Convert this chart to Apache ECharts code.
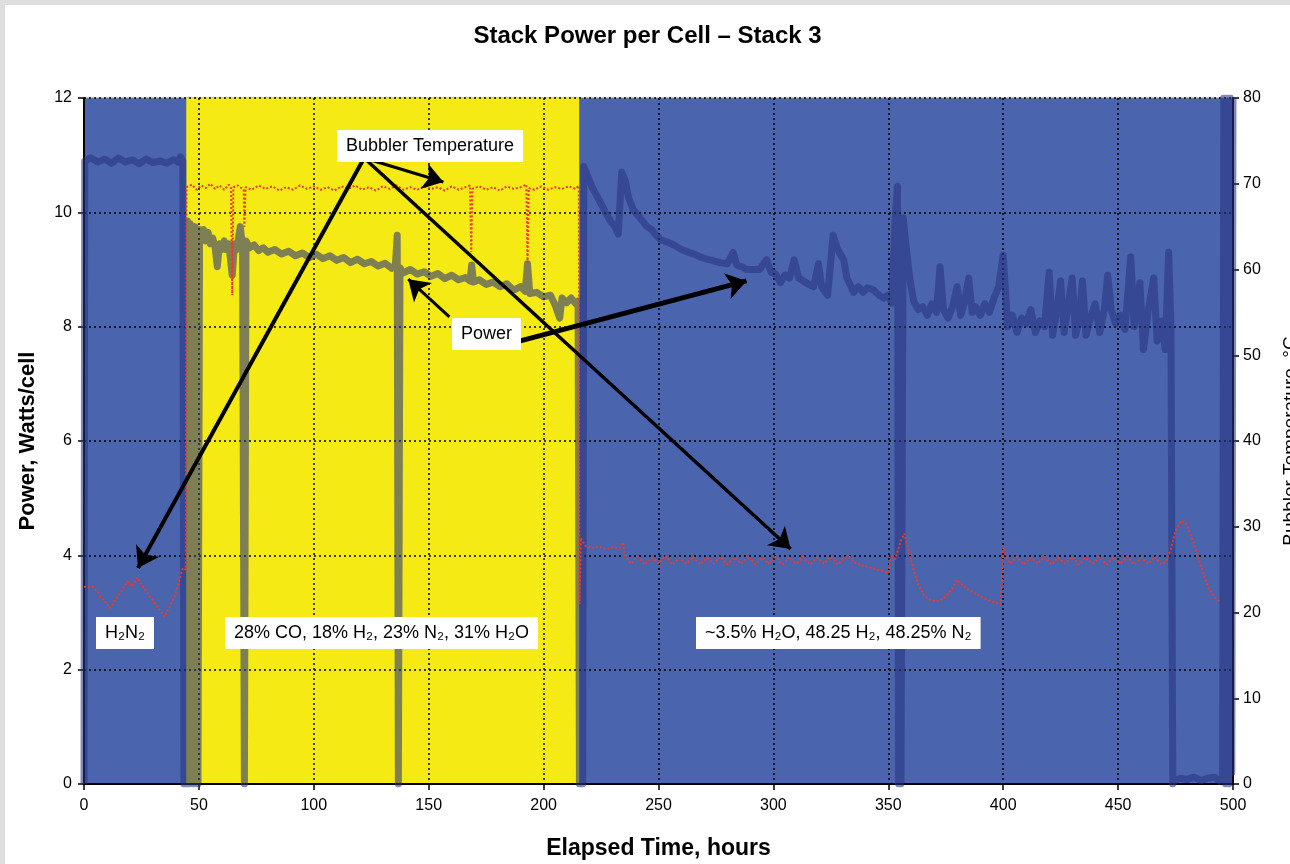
<!DOCTYPE html>
<html>
<head>
<meta charset="utf-8">
<script src="https://cdn.jsdelivr.net/npm/echarts@6/dist/echarts.min.js"></script>
<style>
  body { margin: 0; background: #dedede; }
  #chart { position: absolute; left: 5px; top: 5px; width: 1285px; height: 859px; background: #fff; }
</style>
</head>
<body>
<div id="chart"></div>
<script>
// Stack Power per Cell - Stack 3

const xTicks = [0, 50, 100, 150, 200, 250, 300, 350, 400, 450, 500];
const powerTicks = [0, 2, 4, 6, 8, 10, 12];
const tempTicks = [0, 10, 20, 30, 40, 50, 60, 70, 80];

// syngas test window (hours)
const syngasWindow = [44.5, 215.5];

// [hours, W/cell]
const power = [
  [0, 0], [0.3, 10.9], [3, 10.95], [6, 10.88], [9, 10.93], [12, 10.86], [15, 10.95], [18, 10.88],
  [21, 10.92], [24, 10.85], [27, 10.93], [30, 10.87], [33, 10.9], [36, 10.86], [39, 10.92],
  [41, 10.88], [42, 10.97], [43, 10.9], [43.5, 0], [44.5, 0], [45, 9.85], [45.6, 0], [46.2, 9.8],
  [47, 9.6], [47.6, 0], [48.3, 9.75], [49, 9.5], [49.6, 0], [50.3, 9.7], [51, 9.55], [52, 9.7],
  [53, 9.5], [54, 9.65], [55, 9.45], [56, 9.55], [57, 9.4], [58, 9.05], [59, 9.45], [60, 9.35],
  [61, 9.5], [62, 9.35], [63, 9.45], [64.5, 8.9], [65.5, 9.45], [66.5, 9.35], [68, 9.75], [69, 9.4],
  [69.8, 0], [70.5, 9.5], [72, 9.38], [74, 9.43], [76, 9.33], [78, 9.38], [80, 9.3], [83, 9.35],
  [86, 9.27], [89, 9.32], [92, 9.24], [95, 9.29], [98, 9.21], [101, 9.27], [104, 9.19], [107, 9.24],
  [110, 9.16], [113, 9.21], [116, 9.12], [119, 9.18], [122, 9.1], [125, 9.14], [128, 9.06],
  [131, 9.11], [134, 9.02], [135.5, 9.08], [136.3, 9.6], [136.8, 0], [137.5, 9.03], [139, 8.94],
  [142, 9.0], [145, 8.92], [148, 8.96], [151, 8.88], [154, 8.93], [157, 8.84], [160, 8.9],
  [163, 8.82], [166, 8.86], [168, 8.8], [168.7, 9.08], [169.5, 8.78], [172, 8.82], [175, 8.74],
  [178, 8.78], [181, 8.7], [184, 8.75], [187, 8.64], [190, 8.7], [192, 8.62], [193, 9.1],
  [194, 8.58], [197, 8.6], [200, 8.52], [203, 8.55], [205, 8.38], [207, 8.15], [208, 8.5],
  [210, 8.42], [212, 8.5], [214, 8.4], [215, 8.45], [215.6, 0], [217, 0], [217.5, 10.8],
  [219, 10.65], [221, 10.45], [223, 10.3], [225, 10.15], [227, 10.0], [229, 9.85], [231, 9.75],
  [232.5, 9.62], [234, 10.7], [235.5, 10.55], [237, 10.25], [239, 10.05], [241, 9.95], [243, 9.85],
  [245, 9.75], [247, 9.7], [249, 9.6], [251, 9.52], [254, 9.48], [257, 9.42], [260, 9.35],
  [263, 9.3], [266, 9.26], [268, 9.22], [271, 9.18], [274, 9.15], [277, 9.12], [280, 9.1],
  [282.5, 9.3], [284, 9.08], [286, 9.05], [288.5, 9.0], [291, 9.0], [294, 9.0], [297, 9.17],
  [299, 8.95], [301, 8.92], [303, 8.77], [305, 8.9], [307, 8.85], [309, 9.17], [311, 8.85],
  [313, 8.8], [315, 8.75], [317.5, 8.7], [319.6, 9.1], [321, 8.7], [323.6, 8.55], [326, 9.6],
  [328, 9.35], [330.6, 9.17], [332, 8.85], [335, 8.6], [337, 8.7], [339, 8.6], [341, 8.68],
  [343.6, 8.64], [346, 8.55], [348, 8.5], [350, 8.55], [351.5, 8.41], [353, 9.9], [354, 10.45],
  [354.5, 0], [355.5, 0], [356.5, 9.9], [358, 9.3], [359.5, 8.8], [361, 8.45], [363, 8.3],
  [365, 8.35], [367, 8.2], [369, 8.4], [371, 8.25], [372.5, 9.05], [374, 8.3], [376, 8.15],
  [378, 8.35], [380, 8.7], [381.5, 8.2], [383, 8.4], [385, 8.85], [386.5, 8.25], [388, 8.35],
  [390, 8.2], [392, 8.4], [394, 8.25], [396, 8.5], [398, 8.7], [400, 9.25], [401, 8.6], [402, 8.0],
  [404, 8.2], [406, 7.9], [408, 8.15], [410, 8.05], [412, 8.3], [414, 7.9], [416, 8.1], [418, 8.0],
  [420, 8.95], [421.5, 7.85], [423, 8.2], [425, 8.8], [426.5, 7.9], [428, 8.3], [430, 8.85],
  [431.5, 7.85], [433, 8.1], [434.5, 8.8], [436, 7.85], [438, 8.15], [440, 8.4], [442, 7.9],
  [444, 8.3], [445.5, 8.9], [447, 8.3], [449, 8.05], [451, 8.2], [453, 7.95], [455.5, 9.22],
  [457, 8.0], [459.5, 8.77], [461, 7.6], [463, 8.25], [465.5, 8.85], [467, 7.75], [469, 8.1],
  [470.5, 7.6], [472, 9.3], [473, 8.0], [473.8, 0], [474.5, 0.05], [477, 0.1], [480, 0.08],
  [483, 0.12], [486, 0.06], [489, 0.1], [492, 0.12], [494, 0.05], [495.5, 0.1], [496, 12],
  [496.8, 0], [497.4, 12], [498.2, 0], [498.8, 12], [499.5, 0.2], [500, 12]
];

// [hours, deg C]
const bubblerTemp = [
  [0, 23.0], [4, 23.0], [7.5, 21.8], [11.3, 20.5], [15, 22.0], [19, 23.6], [21, 23.0], [23, 24.1],
  [27, 22.5], [31, 21.0], [35, 19.5], [37.5, 20.8], [39.6, 22.0], [43, 25.2], [44.3, 25.0],
  [44.6, 69.6], [47, 69.9], [49, 69.3], [51, 69.8], [53, 69.5], [55, 70.0], [57, 69.4], [59, 69.8],
  [61, 69.3], [63, 69.9], [64, 69.5], [64.5, 57], [65, 69.6], [67, 69.8], [69.5, 69.3], [69.8, 65],
  [70.3, 69.6], [73, 69.3], [76, 69.8], [79, 69.4], [82, 69.7], [85, 69.2], [88, 69.6], [91, 69.3],
  [94, 69.8], [97, 69.4], [100, 69.7], [103, 69.3], [106, 69.6], [109, 69.2], [112, 69.7],
  [115, 69.4], [118, 69.8], [121, 69.3], [124, 69.6], [127, 69.2], [130, 69.7], [133, 69.4],
  [136, 69.8], [139, 69.3], [142, 69.6], [145, 69.3], [148, 69.7], [151, 69.4], [154, 69.6],
  [157, 69.2], [160, 69.7], [163, 69.3], [166, 69.6], [168, 69.8], [168.5, 62], [169, 69.4],
  [172, 69.7], [175, 69.3], [178, 69.6], [181, 69.2], [184, 69.7], [187, 69.4], [190, 69.6],
  [192.5, 69.9], [193, 60.8], [193.5, 69.5], [196, 69.3], [199, 69.7], [202, 69.3], [205, 69.6],
  [208, 69.4], [211, 69.7], [214, 69.4], [215.3, 69.8], [215.6, 21], [216.2, 28.7], [218, 27.8],
  [221, 27.5], [224, 27.7], [227, 27.4], [230, 27.6], [233, 27.5], [234.5, 28.2], [235.5, 26.5],
  [238, 25.7], [241, 26.5], [244, 25.6], [247, 26.4], [250, 25.7], [253, 26.6], [256, 25.6],
  [259, 26.4], [262, 25.7], [265, 26.5], [268, 25.6], [271, 26.4], [274, 25.7], [277, 26.5],
  [280, 25.6], [283, 26.4], [286, 25.7], [289, 26.6], [292, 25.6], [295, 26.4], [298, 25.7],
  [301, 26.5], [304, 25.6], [307, 26.4], [310, 25.7], [313, 26.5], [316, 25.6], [319, 26.4],
  [322, 25.7], [325, 26.5], [328, 25.6], [331, 26.4], [333, 26.5], [336, 25.7], [340, 25.4],
  [344, 25.1], [348, 24.8], [350, 24.6], [351.5, 26.8], [353, 26.2], [355.5, 28.4], [357, 29.2],
  [359, 27.0], [361, 25.0], [363, 23.3], [365.5, 22.0], [368, 21.5], [371, 21.3], [374, 21.6],
  [377, 22.5], [380, 23.8], [384, 22.8], [388, 22.2], [392, 21.6], [396, 21.2], [399, 21.0],
  [400, 27.6], [401, 26.8], [403, 25.7], [406, 26.5], [409, 25.6], [412, 26.4], [415, 25.7],
  [418, 26.5], [421, 25.6], [424, 26.4], [427, 25.7], [430, 26.5], [433, 25.6], [436, 26.4],
  [439, 25.7], [442, 26.5], [445, 25.6], [448, 26.4], [451, 25.7], [454, 26.5], [457, 25.6],
  [460, 26.4], [463, 25.7], [466, 26.5], [469, 25.6], [471, 26.0], [473, 27.5], [475, 29.5],
  [477.5, 30.7], [480, 30.2], [483, 28.0], [486, 25.5], [489, 23.0], [492, 21.8], [494, 21.3]
];

// callout arrows, [from, to] in [hours, W/cell], with line width
const arrows = [
  { from: [121.9, 10.95], to: [156.4, 10.53], width: 3 },
  { from: [121.9, 10.95], to: [23.5, 3.78], width: 4 },
  { from: [121.9, 10.95], to: [307.5, 4.11], width: 3.5 },
  { from: [159, 8.17], to: [141.1, 8.83], width: 3 },
  { from: [189.9, 7.75], to: [288.3, 8.8], width: 5 }
];

const tickFont = "'Liberation Sans Narrow', 'Liberation Sans', Arial, sans-serif";

const chart = echarts.init(document.getElementById("chart"));

function label(text, left, top) {
  return {
    type: "text",
    left: left,
    top: top,
    z: 10,
    style: {
      text: text,
      font: "18px 'Liberation Sans', Arial, sans-serif",
      fill: "#000",
      backgroundColor: "#fff",
      padding: [7, 9, 7, 9]
    }
  };
}

const option = {
  animation: false,
  title: {
    text: "Stack Power per Cell \u2013 Stack 3",
    left: "center",
    top: 14,
    textStyle: { fontSize: 24, fontWeight: "bold", fontFamily: "'Liberation Sans', Arial", color: "#000" }
  },
  grid: {
    left: 79,
    right: 57,
    top: 93,
    bottom: 80,
    outerBoundsMode: "none",
    containLabel: false,
    show: true,
    backgroundColor: "#4a64ae",
    borderColor: "#9a9a9a",
    borderWidth: 1
  },
  xAxis: {
    type: "value",
    min: xTicks[0],
    max: xTicks[xTicks.length - 1],
    interval: 50,
    z: 2,
    name: "Elapsed Time, hours",
    nameLocation: "middle",
    nameGap: 53,
    nameTextStyle: { fontSize: 23, fontWeight: "bold", fontFamily: "'Liberation Sans', Arial", color: "#000" },
    axisLine: { lineStyle: { color: "#000", width: 2 } },
    axisTick: { length: 6, lineStyle: { color: "#000", width: 1.5 } },
    axisLabel: { fontSize: 16, fontFamily: tickFont, color: "#000", margin: 14 },
    splitLine: { show: true, lineStyle: { color: "#000", type: [2, 3], width: 1.5 } }
  },
  yAxis: [
    {
      type: "value",
      min: powerTicks[0],
      max: powerTicks[powerTicks.length - 1],
      interval: 2,
      z: 2,
      name: "Power, Watts/cell",
      nameLocation: "middle",
      nameGap: 45,
      nameTextStyle: { fontSize: 22, fontWeight: "bold", fontFamily: "'Liberation Sans', Arial", color: "#000" },
      axisLine: { show: true, lineStyle: { color: "#000", width: 2 } },
      axisTick: { show: true, length: 6, lineStyle: { color: "#000", width: 1.5 } },
      axisLabel: { fontSize: 16, fontFamily: tickFont, color: "#000", margin: 12 },
      splitLine: { show: true, lineStyle: { color: "#000", type: [2, 3], width: 1.5 } }
    },
    {
      type: "value",
      position: "right",
      min: tempTicks[0],
      max: tempTicks[tempTicks.length - 1],
      interval: 10,
      z: 2,
      name: "Bubbler Temperature, \u00b0C",
      nameLocation: "middle",
      nameGap: 48,
      nameTextStyle: { fontSize: 19, fontFamily: "'Liberation Sans', Arial", color: "#000" },
      axisLine: { show: true, lineStyle: { color: "#000", width: 2 } },
      axisTick: { show: true, length: 6, lineStyle: { color: "#000", width: 1.5 } },
      axisLabel: { fontSize: 16, fontFamily: tickFont, color: "#000", margin: 10 },
      splitLine: { show: false }
    }
  ],
  graphic: [
    label("Bubbler Temperature", 332, 125),
    label("Power", 447, 313),
    label("H\u2082N\u2082", 91, 612),
    label("28% CO, 18% H\u2082, 23% N\u2082, 31% H\u2082O", 220, 612),
    label("~3.5% H\u2082O, 48.25 H\u2082, 48.25% N\u2082", 691, 612)
  ],
  series: [
    {
      // yellow background for the syngas window
      name: "syngas",
      type: "line",
      z: 1,
      data: [],
      silent: true,
      markArea: {
        silent: true,
        itemStyle: { color: "#f5ea14", opacity: 1 },
        data: [[{ xAxis: syngasWindow[0] }, { xAxis: syngasWindow[1] }]]
      }
    },
    {
      name: "Power",
      type: "line",
      z: 3,
      yAxisIndex: 0,
      data: power,
      showSymbol: false,
      lineStyle: { color: "rgba(40, 52, 130, 0.58)", width: 7, join: "round" }
    },
    {
      name: "Bubbler Temperature",
      type: "line",
      z: 4,
      yAxisIndex: 1,
      data: bubblerTemp,
      showSymbol: false,
      lineStyle: { color: "#ec3a2c", width: 2, type: [2, 2] }
    },
    {
      name: "arrows",
      type: "line",
      z: 5,
      yAxisIndex: 0,
      data: [],
      silent: true,
      markLine: {
        silent: true,
        symbol: ["none", "arrow"],
        symbolSize: 20,
        itemStyle: { color: "#000" },
        label: { show: false },
        lineStyle: { color: "#000", type: "solid" },
        data: arrows.map((a) => [
          { coord: a.from, lineStyle: { width: a.width, color: "#000", type: "solid" } },
          { coord: a.to }
        ])
      }
    }
  ]
};

chart.setOption(option);
</script>
</body>
</html>
